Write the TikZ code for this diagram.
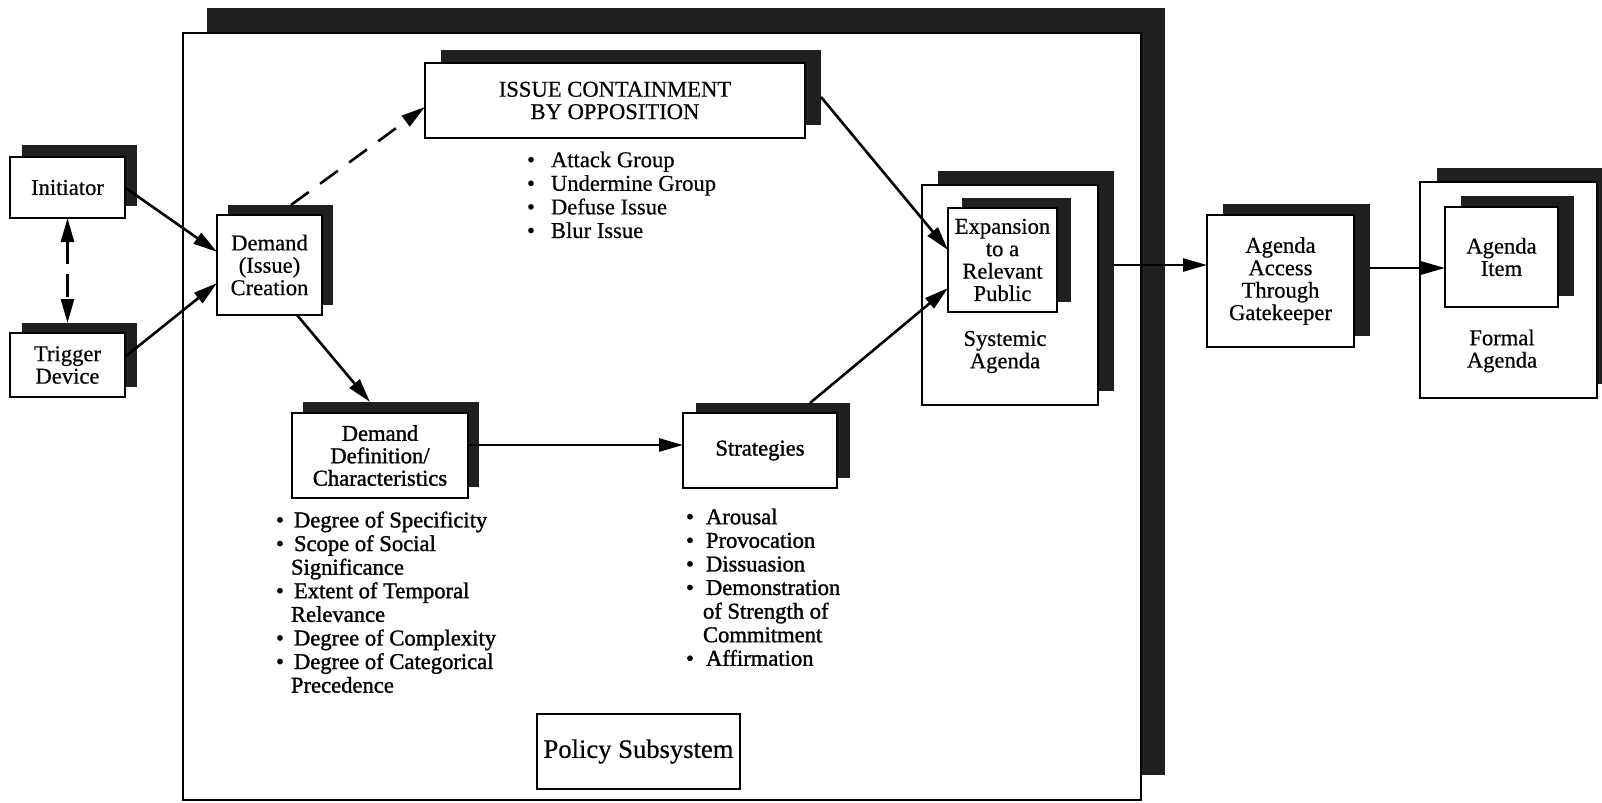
\documentclass[tikz,border=0pt]{standalone}
\usepackage{fontspec}
\setmainfont[FakeBold=0.5]{Liberation Serif}
\newfontfamily\heavy[FakeBold=1.3]{Liberation Serif}
\usetikzlibrary{arrows.meta,calc}
\newcommand{\lbl}{\fontsize{11.3}{11.2}\selectfont}
\newcommand{\lst}{\fontsize{11.3}{11.8}\selectfont}
\newcommand{\bul}[1][9pt]{\makebox[#1][l]{•}}
\newcommand{\shbox}[9][]{%
  \node[shad, minimum width={#5*0.5pt}, minimum height={#6*0.5pt}] (#2S) at ({#3+(#7)},{#4+(#8)}) {};
  \node[box, #1, minimum width={#5*0.5pt}, minimum height={#6*0.5pt}] (#2) at (#3,#4) {#9};
}
\tikzset{
  shad/.style={fill=black!88, draw=none, inner sep=0pt, outer sep=0pt},
  box/.style={draw=black, line width=1.1pt, fill=white, inner sep=0pt, outer sep=0pt, align=center, font=\lbl},
  arr/.style={line width=1.3pt, -{Triangle[length=12pt,width=6.5pt]}},
  listtext/.style={inner sep=0pt, outer sep=0pt, align=left, anchor=north west, font=\lst},
  plain/.style={inner sep=0pt, outer sep=0pt, align=center, font=\lbl},
}
\begin{document}
\begin{tikzpicture}[x=0.5pt,y=-0.5pt]
\useasboundingbox (0,0) rectangle (1602,803);
\clip (0,0) rectangle (1602,803);
% policy subsystem frame
\node[shad, minimum width={958*0.5pt}, minimum height={767*0.5pt}] (frameS) at (686,391.5) {};
\node[draw=black, line width=1pt, fill=white, inner sep=0pt, minimum width={958*0.5pt}, minimum height={767*0.5pt}] (frame) at (662,416.5) {};
% boxes
\shbox{init}{67.5}{187.5}{115}{61}{12}{-12}{Initiator}
\shbox{trig}{67.5}{365}{115}{64}{12}{-10}{Trigger\\Device}
\shbox{dcre}{269.5}{265}{105}{100}{11}{-10}{Demand\\(Issue)\\Creation}
\shbox{issue}{615}{100.5}{380}{75}{16}{-13}{ISSUE CONTAINMENT\\BY OPPOSITION}
\shbox[font=\lbl\heavy]{ddef}{380}{455.5}{176}{85}{11}{-11}{Demand\\Definition/\\Characteristics}
\shbox[font=\lbl\heavy]{strat}{760}{450.5}{154}{75}{13}{-10}{Strategies}
\shbox{syst}{1010}{295}{176}{220}{16}{-14}{}
\shbox{expn}{1002.5}{260}{109}{104}{14}{-10}{Expansion\\to a\\Relevant\\Public}
\shbox{gate}{1280.5}{281}{147}{132}{16}{-11}{Agenda\\Access\\Through\\Gatekeeper}
\shbox{formal}{1508.5}{290}{177}{216}{17}{-14}{}
\shbox{item}{1501.5}{257}{113}{100}{16}{-11}{Agenda\\Item}
\node[draw=black, line width=1.1pt, fill=white, inner sep=0pt, minimum width={203*0.5pt}, minimum height={75*0.5pt}, font=\fontsize{13.3}{16}\selectfont] (policy) at (638.5,751.5) {Policy Subsystem};
% labels of outer boxes
\node[plain] (systlbl) at (1005,352) {Systemic\\Agenda};
\node[plain] (formallbl) at (1502,351) {Formal\\Agenda};
% bullet lists
\node[listtext] (issuelist) at (527,151.5) {\bul[12pt]Attack Group\\\bul[12pt]Undermine Group\\\bul[12pt]Defuse Issue\\\bul[12pt]Blur Issue};
\node[listtext, font=\lst\heavy] (deflist) at (276,511.5) {\bul Degree of Specificity\\\bul Scope of Social\\\hspace*{7.5pt}Significance\\\bul Extent of Temporal\\\hspace*{7.5pt}Relevance\\\bul Degree of Complexity\\\bul Degree of Categorical\\\hspace*{7.5pt}Precedence};
\node[listtext, font=\lst\heavy] (stratlist) at (686,508.5) {\bul[10pt]Arousal\\\bul[10pt]Provocation\\\bul[10pt]Dissuasion\\\bul[10pt]Demonstration\\\hspace*{8.5pt}of Strength of\\\hspace*{8.5pt}Commitment\\\bul[10pt]Affirmation};
% connectors
\coordinate (p1) at ([yshift=5.25pt]ddef.east);
\coordinate (p2) at ([yshift=8pt]gate.west);
\coordinate (p3) at ([yshift=-5.5pt]item.west);
\draw[arr] (init.east) -- (dcre.166);
\draw[arr] (trig.8) -- (dcre.199);
\draw[line width=1.3pt, {Triangle[length=12pt,width=6.5pt]}-{Triangle[length=12pt,width=6.5pt]}, dash pattern=on 11.5pt off 5pt] (init.south) -- (init.south |- trigS.north);
\draw[arr, dash pattern=on 11pt off 7pt] ([xshift=5.25pt]dcreS.north) -- ([yshift=-3.25pt]issue.west);
\draw[arr] ([yshift=-4.75pt]issueS.east) -- ([yshift=5pt]expn.west);
\draw[arr] ([xshift=18.5pt]stratS.north) -- ([yshift=-14pt]expn.west);
\draw[arr] ([xshift=13.75pt]dcre.south) -- ([xshift=-10.5pt]ddefS.north);
\draw[arr] (p1) -- (p1 -| strat.west);
\draw[arr] (p2 -| systS.east) -- (p2);
\draw[arr] (p3 -| gateS.east) -- (p3);
\end{tikzpicture}
\end{document}
